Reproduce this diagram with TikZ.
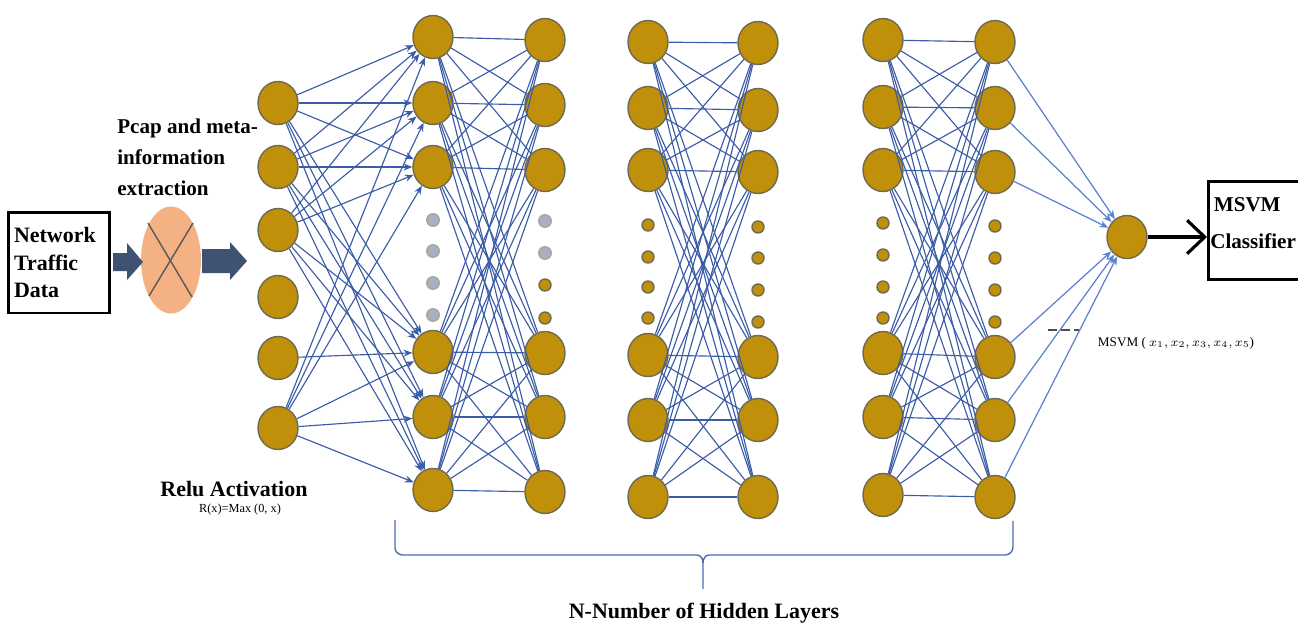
\documentclass[tikz,border=0pt]{standalone}
\usepackage{fontspec}
\setmainfont{Liberation Serif}
\usetikzlibrary{shapes.geometric,arrows.meta,calc}
\definecolor{gold}{HTML}{C0900A}
\definecolor{rim}{HTML}{6E6A50}
\definecolor{greydot}{HTML}{A8B1C4}
\definecolor{conncol}{HTML}{3B5CA6}
\definecolor{conncoltwo}{HTML}{5B80D0}
\definecolor{slate}{HTML}{3F5272}
\definecolor{peach}{HTML}{F4B183}
\definecolor{bracecol}{HTML}{4A6DB0}
\begin{document}
\begin{tikzpicture}[x=0.02cm,y=-0.02cm,
  neuron/.style={ellipse,minimum width=0.8cm,minimum height=0.86cm,inner sep=0pt,fill=gold,draw=rim,line width=0.8pt},
  gdot/.style={circle,minimum size=0.25cm,inner sep=0pt,fill=greydot,draw=rim!60,line width=0.8pt},
  odot/.style={circle,minimum size=0.24cm,inner sep=0pt,fill=gold,draw=rim,line width=0.8pt},
  conn/.style={draw=conncol,line width=0.65pt},
  inarrow/.style={conn,-{Stealth[length=5pt,width=4pt]}},
  outarrow/.style={draw=conncoltwo,line width=0.7pt,-{Stealth[length=5pt,width=4pt]}},
  boldtxt/.style={font=\fontsize{12.5}{16}\selectfont\bfseries,inner sep=0pt},
  smalltxt/.style={font=\fontsize{7}{8}\selectfont,inner sep=0pt},
  blockarrow/.style={fill=slate},
  thickbox/.style={draw=black,line width=1.7pt}]
\useasboundingbox (0,0) rectangle (1298,623);

% input box
\node[thickbox,minimum width=2.04cm,minimum height=2.02cm,text width=1.8cm,align=left,
  inner xsep=0.12cm,font=\fontsize{12.5}{15.8}\selectfont\bfseries] (ntd) at (59,262.5)
  {Network\\Traffic\\Data};

% pcap ellipse
\node[ellipse,fill=peach,minimum width=1.2cm,minimum height=2.14cm,inner sep=0pt] (pcap) at (171,260) {};
\draw[draw=black!65,line width=0.8pt] ($(pcap.center)+(-23,-37)$) -- ($(pcap.center)+(21,37)$);
\draw[draw=black!65,line width=0.8pt] ($(pcap.center)+(22,-37)$) -- ($(pcap.center)+(-22,36)$);

% block arrows
\fill[blockarrow] (113,253) -- (127,253) -- (127,243) -- (143,262) -- (127,280) -- (127,271) -- (113,271) -- cycle;
\fill[blockarrow] (202,249) -- (230,249) -- (230,242) -- (247,261) -- (230,280) -- (230,273) -- (202,273) -- cycle;

% label
\node[boldtxt,anchor=west,align=left,font=\fontsize{12}{17.6}\selectfont\bfseries] (pcaplbl) at (117,157)
  {Pcap and meta-\\information\\extraction};

% layers
\foreach \y [count=\i] in {103,167,230,297,358,428} \node[neuron] (I\i) at (278,\y) {};
\foreach \y [count=\i] in {37,103,167,352,417,490} \node[neuron] (A\i) at (433,\y) {};
\foreach \y [count=\i] in {40,105,170,353,417,492} \node[neuron] (B\i) at (545,\y) {};
\foreach \y [count=\i] in {42,108,170,355,420,497} \node[neuron] (C\i) at (648,\y) {};
\foreach \y [count=\i] in {43,110,172,357,420,497} \node[neuron] (D\i) at (758,\y) {};
\foreach \y [count=\i] in {40,107,170,353,417,495} \node[neuron] (E\i) at (883,\y) {};
\foreach \y [count=\i] in {42,108,172,357,420,497} \node[neuron] (F\i) at (995,\y) {};
\node[neuron] (out) at (1127,237) {};

% dots
\foreach \y [count=\i] in {220,251,283,315} \node[gdot] (ad\i) at (433,\y) {};
\node[gdot] (bd1) at (545,221) {};
\node[gdot] (bd2) at (545,253) {};
\node[odot] (bd3) at (545,285) {};
\node[odot] (bd4) at (545,318) {};
\foreach \y [count=\i] in {225,257,287,318} \node[odot] (cd\i) at (648,\y) {};
\foreach \y [count=\i] in {227,258,290,322} \node[odot] (dd\i) at (758,\y) {};
\foreach \y [count=\i] in {223,255,287,318} \node[odot] (ed\i) at (883,\y) {};
\foreach \y [count=\i] in {226,258,290,322} \node[odot] (fd\i) at (995,\y) {};

% connections
\foreach \i in {1,2,3,6} \foreach \j in {1,...,6} \draw[inarrow] (I\i) -- (A\j);
\draw[inarrow] (I5) -- (A4);
\foreach \i in {1,...,6} \foreach \j in {1,...,6} {
  \draw[conn] (A\i) -- (B\j);
  \draw[conn] (C\i) -- (D\j);
  \draw[conn] (E\i) -- (F\j);
}
\foreach \i in {1,...,6} \draw[outarrow] (F\i) -- (out);

% MSVM classifier box
\node[thickbox,anchor=north west,minimum width=2.8cm,minimum height=1.96cm,inner sep=0pt] (msvm) at (1207,180) {};
\node[boldtxt,anchor=north west,align=left,font=\fontsize{12}{21}\selectfont\bfseries] (msvmlbl) at (1210,197)
  {\,MSVM\\Classifier};
\draw[line width=1.8pt,-{Straight Barb[length=10pt,width=19pt,line width=1.8pt]}] (out.east) -- (out.east -| msvm.west);

% dashed and msvm formula
\coordinate (dashA) at (1048,330);
\coordinate (dashB) at (1079,330);
\draw[draw=black!70,line width=0.9pt,dash pattern=on 5pt off 2.5pt] (dashA) -- (dashB);
\node[smalltxt,font=\fontsize{7.5}{9}\selectfont] (msvmf) at (1176,343) {MSVM ( $x_1,x_2,x_3,x_4,x_5$)};

% relu
\node[boldtxt] (relu) at (234,489) {Relu Activation};
\node[smalltxt] (reluf) at (240,510) {R(x)=Max (0, x)};

% brace
\draw[draw=bracecol,line width=0.8pt] (395,520) -- (395,548) to[out=-90,in=180] (403,555) -- (697,555)
  to[out=0,in=90] (703,563) -- (703,589);
\draw[draw=bracecol,line width=0.8pt] (703,563) to[out=90,in=180] (709,555) -- (1005,555)
  to[out=0,in=-90] (1013,547) -- (1013,521);
\node[boldtxt] (hid) at (704,613) {N-Number of Hidden Layers};
\end{tikzpicture}
\end{document}
